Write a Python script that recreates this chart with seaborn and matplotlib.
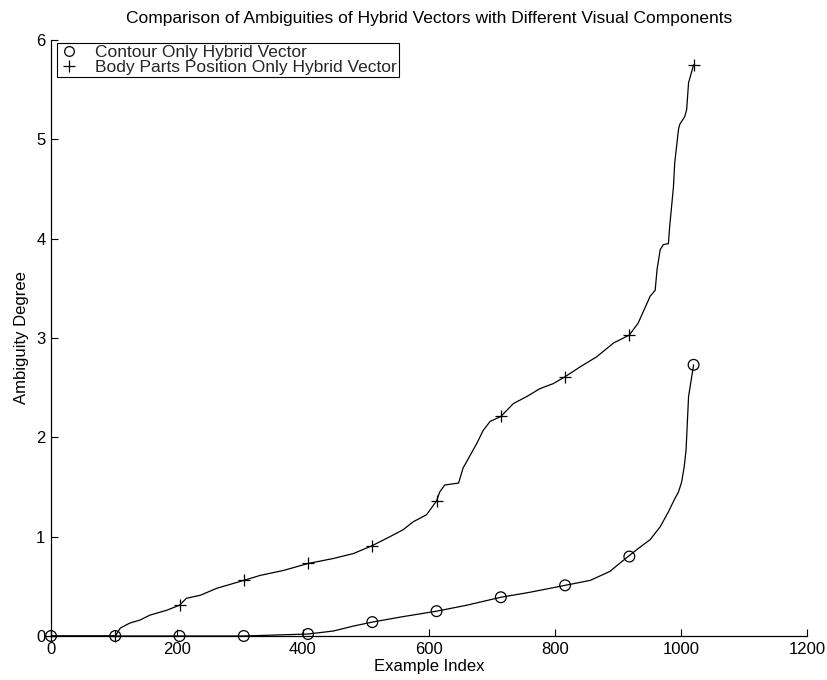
import matplotlib
matplotlib.use("Agg")
import matplotlib.pyplot as plt
from matplotlib.lines import Line2D
import seaborn as sns

title = "Comparison of Ambiguities of Hybrid Vectors with Different Visual Components"
x_label = "Example Index"
y_label = "Ambiguity Degree"
series_names = ["Contour Only Hybrid Vector", "Body Parts Position Only Hybrid Vector"]

# Sorted ambiguity curve, contour-only vectors
contour_x = [0, 102, 204, 306, 408, 448, 480, 510, 554, 612, 660, 714, 760, 816,
             856, 887, 916, 932, 951, 967, 980, 990, 996, 1001, 1005, 1008, 1012, 1020]
contour_y = [0, 0, 0, 0, 0.02, 0.05, 0.10, 0.14, 0.19, 0.25, 0.31, 0.39, 0.44, 0.51,
             0.56, 0.65, 0.80, 0.88, 0.97, 1.10, 1.25, 1.38, 1.45, 1.55, 1.70, 1.87, 2.41, 2.73]

# Sorted ambiguity curve, body-parts-position-only vectors
body_x = [0, 102, 110, 125, 141, 157, 184, 204, 215, 237, 263, 306, 332, 369, 408,
          448, 480, 510, 538, 559, 575, 596, 612, 617, 625, 647, 654, 676, 686, 697,
          714, 734, 755, 776, 797, 816, 840, 866, 893, 918, 932, 951, 959, 962, 967,
          972, 980, 982, 988, 990, 996, 998, 1006, 1009, 1012, 1020]
body_y = [0, 0, 0.08, 0.13, 0.16, 0.21, 0.26, 0.31, 0.38, 0.41, 0.48, 0.56, 0.61, 0.66, 0.73,
          0.78, 0.83, 0.91, 1.00, 1.07, 1.15, 1.22, 1.36, 1.45, 1.52, 1.54, 1.69, 1.94, 2.07, 2.16,
          2.21, 2.34, 2.41, 2.49, 2.54, 2.61, 2.71, 2.81, 2.95, 3.03, 3.15, 3.42, 3.48, 3.69, 3.89,
          3.94, 3.95, 4.12, 4.52, 4.76, 5.10, 5.15, 5.23, 5.30, 5.57, 5.75]

# Marked samples along each curve
marker_x = [0, 102, 204, 306, 408, 510, 612, 714, 816, 918, 1020]
contour_marks = [0, 0, 0, 0, 0.02, 0.14, 0.25, 0.39, 0.51, 0.80, 2.73]
body_marks = [0, 0, 0.31, 0.56, 0.73, 0.91, 1.36, 2.21, 2.61, 3.03, 5.75]

x_ticks = [0, 200, 400, 600, 800, 1000, 1200]
y_ticks = [0, 1, 2, 3, 4, 5, 6]

sns.set_theme(style="ticks")
plt.rcParams["font.family"] = ["Liberation Sans", "DejaVu Sans"]

fig = plt.figure(figsize=(8.28, 6.8), dpi=100)
ax = fig.add_axes([51 / 828, 44 / 680, 756 / 828, 596 / 680])

sns.lineplot(x=contour_x, y=contour_y, ax=ax, color="black", linewidth=0.9,
             sort=False, estimator=None)
sns.lineplot(x=body_x, y=body_y, ax=ax, color="black", linewidth=0.9,
             sort=False, estimator=None)
sns.scatterplot(x=marker_x, y=contour_marks, ax=ax, marker="o", s=60,
                facecolor="none", edgecolor="black", linewidth=0.9, zorder=3,
                clip_on=False)
sns.scatterplot(x=marker_x, y=body_marks, ax=ax, marker="+", s=80,
                color="black", linewidth=0.9, zorder=3, clip_on=False)

ax.set_xlim(0, 1200)
ax.set_ylim(0, 6)
ax.set_xticks(x_ticks)
ax.set_yticks(y_ticks)
ax.set_xticklabels([str(t) for t in x_ticks])
ax.set_yticklabels([str(t) for t in y_ticks])
ax.tick_params(direction="in", length=5, width=0.8, colors="black",
               labelsize=12, pad=4)
for side in ("top", "right"):
    ax.spines[side].set_visible(False)
for side in ("left", "bottom"):
    ax.spines[side].set_color("black")
    ax.spines[side].set_linewidth(0.9)

ax.set_title(title, fontsize=12.5, color="black", pad=12)
ax.set_xlabel(x_label, fontsize=12, color="black", labelpad=2)
ax.set_ylabel(y_label, fontsize=12, color="black", labelpad=5)

handles = [
    Line2D([], [], linestyle="none", marker="o", markersize=7,
           markerfacecolor="none", markeredgecolor="black", markeredgewidth=0.9),
    Line2D([], [], linestyle="none", marker="+", markersize=9,
           color="black", markeredgewidth=0.9),
]
leg = ax.legend(handles, series_names, loc="upper left",
                bbox_to_anchor=(6 / 756, 1 - 3 / 596), borderaxespad=0,
                frameon=True, fancybox=False, framealpha=1, fontsize=12.5,
                handlelength=1.2, handletextpad=0.9, borderpad=0.1,
                labelspacing=0.0)
leg.get_frame().set_edgecolor("black")
leg.get_frame().set_linewidth(0.8)

fig.savefig("out.png", dpi=100)
